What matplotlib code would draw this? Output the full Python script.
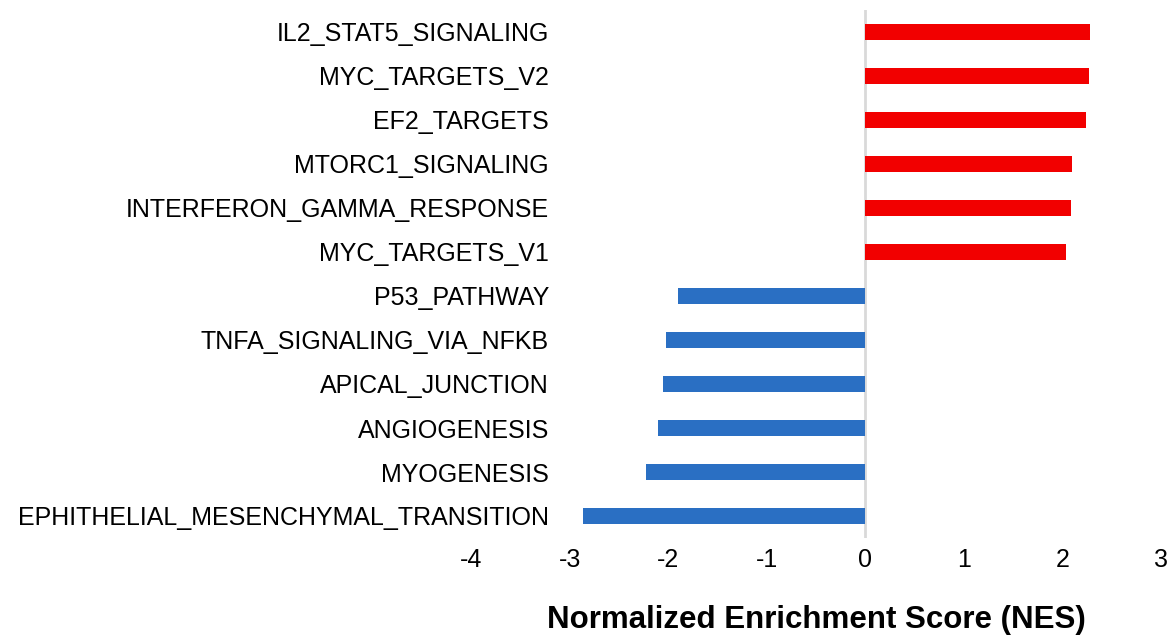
import matplotlib
matplotlib.use("Agg")
import matplotlib.pyplot as plt

categories = [
    "IL2_STAT5_SIGNALING",
    "MYC_TARGETS_V2",
    "EF2_TARGETS",
    "MTORC1_SIGNALING",
    "INTERFERON_GAMMA_RESPONSE",
    "MYC_TARGETS_V1",
    "P53_PATHWAY",
    "TNFA_SIGNALING_VIA_NFKB",
    "APICAL_JUNCTION",
    "ANGIOGENESIS",
    "MYOGENESIS",
    "EPHITHELIAL_MESENCHYMAL_TRANSITION",
]
nes = [2.28, 2.27, 2.24, 2.10, 2.09, 2.04, -1.90, -2.02, -2.05, -2.10, -2.22, -2.86]
x_ticks = [-4, -3, -2, -1, 0, 1, 2, 3]

plt.rcParams['font.family'] = ['Liberation Sans', 'DejaVu Sans']

fig = plt.figure(figsize=(11.74, 6.4), dpi=100)
ax = fig.add_axes([471/1174, 1-538/640, (1161-471)/1174, (538-10)/640])

ypos = list(range(len(categories)))[::-1]
colors = ['#F20000' if v > 0 else '#2A6FC3' for v in nes]
ax.barh(ypos, nes, height=0.36, color=colors, zorder=2)
ax.axvline(0, color='#D9D9D9', lw=2, zorder=1)

ax.set_xlim(-4, 3)
ax.set_ylim(-0.5, len(categories) - 0.5)
ax.set_xticks(x_ticks)
ax.set_xticklabels([str(t) for t in x_ticks], fontsize=18)
ax.set_yticks(ypos)
ax.set_yticklabels(categories, fontsize=18)
ax.tick_params(axis='y', length=0, pad=-(549-471)*0.72)
ax.tick_params(axis='x', length=0, pad=7)
for s in ax.spines.values():
    s.set_visible(False)

ax.set_xlabel("Normalized Enrichment Score (NES)", fontsize=22.5, fontweight='bold', labelpad=24)

fig.savefig("out.png", dpi=100)
